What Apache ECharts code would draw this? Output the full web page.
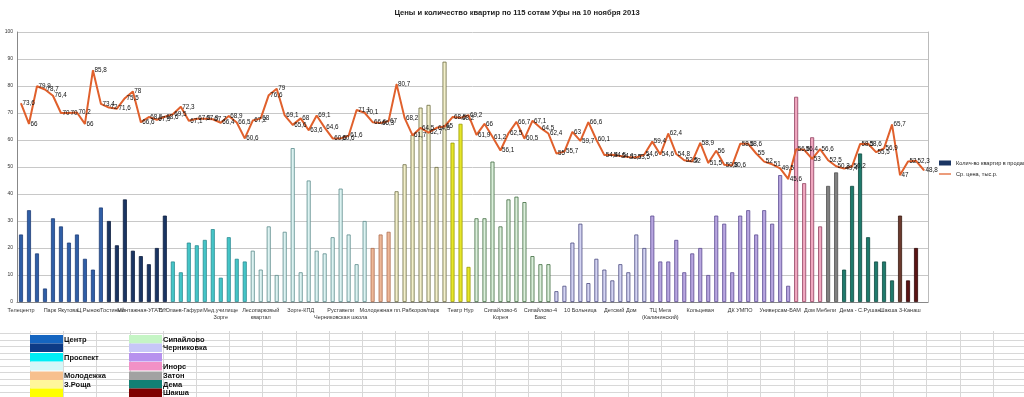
<!DOCTYPE html>
<html>
<head>
<meta charset="utf-8">
<script src="https://cdn.jsdelivr.net/npm/echarts@6/dist/echarts.min.js"></script>
<style>
  html, body { margin: 0; padding: 0; background: #fff; }
  #chart { width: 1024px; height: 397px; }
</style>
</head>
<body>
<div id="chart"></div>
<script>
// количество квартир в продаже по сотам (114 сот, у последней столбца нет)
const counts = [
  25, 34, 18, 5, 31, 28, 22, 25, 16, 12,
  35, 30, 21, 38, 19, 17, 14, 20, 32, 15,
  11, 22, 21, 23, 27, 9, 24, 16, 15, 19,
  12, 28, 10, 26, 57, 11, 45, 19, 18, 24,
  42, 25, 14, 30, 20, 25, 26, 41, 51, 62,
  72, 73, 50, 89, 59, 66, 13, 31, 31, 52,
  28, 38, 39, 37, 17, 14, 14, 4, 6, 22,
  29, 7, 16, 12, 8, 14, 11, 25, 20, 32,
  15, 15, 23, 11, 18, 20, 10, 32, 29, 11,
  32, 34, 25, 34, 29, 47, 6, 76, 44, 61,
  28, 43, 48, 12, 43, 55, 24, 15, 15, 8,
  32, 8, 20, null
];

// средняя цена, тыс.р. за кв.м
const prices = [
  73.6, 66, 79.9, 78.7, 76.4, 70, 70, 70.2, 66, 85.8,
  73.4, 72, 71.6, 75.5, 78, 66.6, 68.5, 67.5, 68.6, 69.5,
  72.3, 67.1, 67.9, 67.9, 67.7, 66.4, 68.9, 66.5, 60.6, 67.2,
  68, 76.6, 79, 69.1, 65.6, 68, 63.6, 69.1, 64.6, 60.6,
  60.6, 61.6, 71.1, 70.1, 66.6, 66.3, 67, 80.7, 68.2, 61.7,
  64.5, 62.7, 64.5, 65, 68.5, 68.2, 69.2, 61.9, 66, 61.2,
  56.1, 62.5, 66.7, 60.5, 67.1, 64.5, 62.4, 55, 55.7, 63,
  59.7, 66.6, 60.1, 54.4, 54.5, 54.1, 53.7, 53.5, 54.6, 59.4,
  54.6, 62.4, 54.8, 52.5, 52, 58.9, 51.5, 56, 50.8, 50.6,
  58.6, 58.6, 55, 52, 51, 49.5, 45.6, 56.6, 56.4, 53,
  56.6, 52.5, 50.3, 49.4, 50.2, 58.5, 58.6, 55.5, 56.9, 65.7,
  47, 52, 52.3, 48.8
];

// подписи оси: каждая пятая сота
const tickLabels = [
  "Телецентр", "Парк Якутова", "Ц.Рынок/Гостиный", "Монтажная-УГАТУ",
  "Б.Юлаев-Гафури", "Мед.училище\nЗорге", "Лесопарковый\nквартал", "Зорге-КПД",
  "Руставели\nЧерниковская школа", "Молодежная пл.", "Рабкоров/парк", "Театр Нур",
  "Сипайлово-6\nКорея", "Сипайлово-4\nБакс", "10 Больница", "Детский Дом",
  "ТЦ Мега\n(Калининский)", "Кольцевая", "ДК УМПО", "Универсам-БАМ",
  "Дом Мебели", "Дема - С.Рушан", "Шакша 3-Канаш"
];

// районы: [ключ, первая сота, последняя сота]
const regionSpans = [
  ["center", 1, 11], ["center2", 12, 19],
  ["prospekt", 20, 29], ["prospekt2", 30, 44],
  ["molod", 45, 47], ["zroscha", 48, 54], ["yellow", 55, 57],
  ["sipay", 58, 67], ["chern", 68, 79], ["chern2", 80, 97],
  ["inors", 98, 101], ["zaton", 102, 103], ["dema", 104, 110],
  ["shaksha1", 111, 111], ["shaksha", 112, 113]
];

const legendLeft = ["Центр", "", "Проспект", "", "Молодежка", "З.Роща", ""];
const legendRight = ["Сипайлово", "Черниковка", "", "Инорс", "Затон", "Дема", "Шакша"];

const barStyle = {
  center:   ["#2F5EA6", "#1F3F78"],
  center2:  ["#1A3563", "#0F2040"],
  prospekt: ["#45C6C8", "#2A8A90"],
  prospekt2:["#DDF3F2", "#5A8A8A"],
  molod:    ["#EDB898", "#B07050"],
  zroscha:  ["#F3F0CC", "#6B6B40"],
  yellow:   ["#E6E62A", "#9A9A00"],
  sipay:    ["#DCEFDC", "#3F6B3F"],
  chern:    ["#D4D4F2", "#4A4A80"],
  chern2:   ["#B8A6E0", "#5A4A90"],
  inors:    ["#F0A8C0", "#904060"],
  zaton:    ["#808080", "#505050"],
  dema:     ["#1F7A6C", "#0F4A40"],
  shaksha1: ["#6B3A2E", "#3A1A10"],
  shaksha:  ["#5A1414", "#300808"]
};
const swatchLeft = ["#1565C0", "#0D3B86", "#00EEF5", "#D5F7F8", "#F7C08E", "#FFF79A", "#FFFF00"];
const swatchRight = ["#C5F5C5", "#C7C7F7", "#B792EE", "#F291C6", "#A2A2A2", "#128074", "#7F0000"];

const categories = prices.map((_, i) => String(i + 1));

function regionOf(n) {
  for (const s of regionSpans) if (n >= s[1] && n <= s[2]) return s[0];
  return "center";
}

const barData = counts.map((v, i) => {
  const st = barStyle[regionOf(i + 1)];
  return { value: v, itemStyle: { color: st[0], borderColor: st[1], borderWidth: 0.8 } };
});

// фон листа Excel под диаграммой
const sheet = [];
for (let k = 0; k < 10; k++) {
  const y = Math.round(333 + k * 6.5) + 0.5;
  sheet.push({ type: "line", shape: { x1: 0, y1: y, x2: 1024, y2: y },
    style: { stroke: "#D8D8D8", lineWidth: 1 }, silent: true });
}
for (let k = 0; k < 31; k++) {
  const x = Math.round(30 + k * 33.2) + 0.5;
  sheet.push({ type: "line", shape: { x1: x, y1: 331, x2: x, y2: 397 },
    style: { stroke: "#D8D8D8", lineWidth: 1 }, silent: true });
}
const rowTops = [335, 343.5, 353, 362, 371.5, 380, 388.5];
function addSwatches(x, colors, names) {
  colors.forEach((c, k) => {
    sheet.push({ type: "rect", shape: { x: x, y: rowTops[k], width: 33, height: 8.6 },
      style: { fill: c }, silent: true });
    if (names[k]) {
      sheet.push({ type: "text", x: x + 34, y: rowTops[k] + 4.5,
        style: { text: names[k], fontSize: 7.5, fontWeight: "bold", fill: "#111",
          fontFamily: "Arial, 'Liberation Sans', sans-serif", verticalAlign: "middle" },
        silent: true });
    }
  });
}
addSwatches(30, swatchLeft, legendLeft);
addSwatches(129, swatchRight, legendRight);

const font = "Arial, 'Liberation Sans', sans-serif";
const chart = echarts.init(document.getElementById("chart"));
chart.setOption({
  animation: false,
  textStyle: { fontFamily: font },
  title: {
    text: "Цены и количество квартир по 115 сотам Уфы на 10 ноября 2013",
    left: 512, textAlign: "center", top: 4,
    textStyle: { fontSize: 7.6, fontWeight: "bold", color: "#222", fontFamily: font }
  },
  legend: {
    orient: "vertical", left: 934, top: 155, itemWidth: 12, itemHeight: 5, itemGap: 5,
    textStyle: { fontSize: 5.6, color: "#222" },
    data: [
      { name: "Колич-во квартир в продаже", icon: "rect" },
      { name: "Ср. цена, тыс.р.", icon: "path://M0,4L24,4L24,6.5L0,6.5Z" }
    ]
  },
  grid: { left: 17, right: 96, top: 32, bottom: 95 },
  xAxis: {
    type: "category", data: categories,
    axisLine: { lineStyle: { color: "#888" } },
    axisTick: { show: false },
    axisLabel: {
      interval: 0, fontSize: 5.5, color: "#333", margin: 5, lineHeight: 7,
      formatter: (v, i) => (i % 5 === 0 ? tickLabels[i / 5] : "")
    }
  },
  yAxis: [
    {
      type: "value", min: 0, max: 100, interval: 10,
      axisLine: { show: true, lineStyle: { color: "#888" } },
      axisLabel: { fontSize: 5, color: "#333", margin: 4 },
      splitLine: { lineStyle: { color: "#C8C8C8" } }
    },
    {
      type: "value", min: 0, max: 100, interval: 10, position: "right",
      axisLine: { show: true, lineStyle: { color: "#BBB" } },
      axisLabel: { show: false }, axisTick: { show: false }, splitLine: { show: false }
    }
  ],
  series: [
    {
      name: "Колич-во квартир в продаже", type: "bar", barWidth: 4,
      itemStyle: { color: "#1A3563" },
      data: barData
    },
    {
      name: "Ср. цена, тыс.р.", type: "line", data: prices, z: 5,
      symbol: "circle", symbolSize: 1, showSymbol: true,
      lineStyle: { color: "#E0602C", width: 2 },
      itemStyle: { color: "#E0602C" },
      label: {
        show: true, position: "right", distance: 1, fontSize: 6.3, color: "#111",
        formatter: p => String(p.value).replace(".", ",")
      }
    }
  ],
  graphic: sheet
});
</script>
</body>
</html>
